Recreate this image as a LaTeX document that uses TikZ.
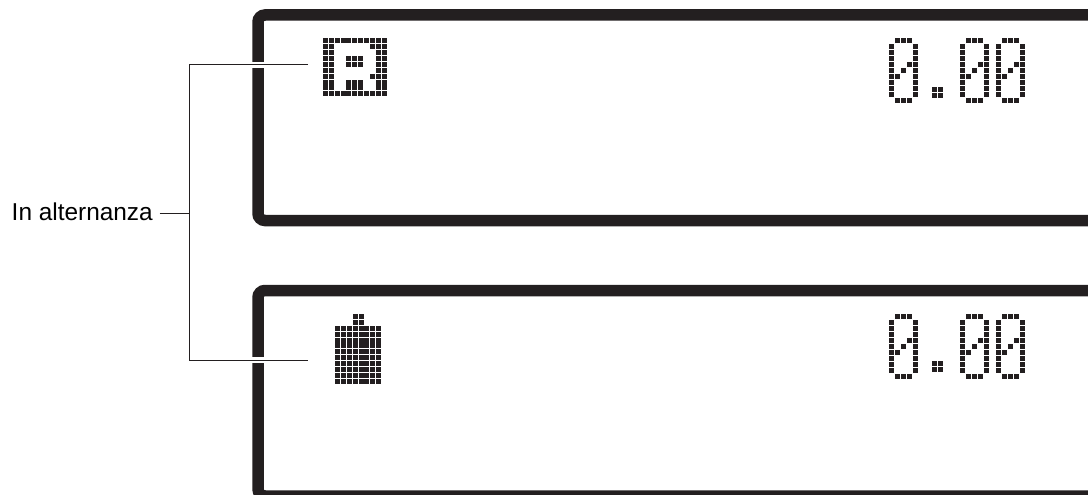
\documentclass[tikz,border=0pt]{standalone}
\usepackage{fontspec}
\setmainfont{Liberation Sans}
\definecolor{lcdblack}{HTML}{231F20}
\newcommand{\lcdcells}[4]{%
  \foreach \r/\cols in {#4}
    \foreach \c in \cols
      \fill[lcdcell] ({#1+\c*#3},{#2+\r*#3}) rectangle +(5,5);}
\newcommand{\lcdzero}[2]{\lcdcells{#1}{#2}{5.95}{0/{1,2,3},1/{0,4},2/{0,4},3/{0,4},4/{0,3,4},5/{0,2,4},6/{0,1,4},7/{0,4},8/{0,4},9/{0,4},10/{1,2,3}}}
\begin{document}
\begin{tikzpicture}[x=1pt, y=-1pt, font=\fontsize{24.4}{29}\selectfont,
  lcdcell/.style={fill=lcdblack},
  frame/.style={draw=lcdblack, line width=11.5pt, rounded corners=7pt},
  lead/.style={draw=lcdblack, line width=1pt},
  halo/.style={draw=white, line width=6pt}]
\clip (0,0) rectangle (1088,495);
% displays
\draw[frame] (1100,15) -- (258,15) -- (258,220.5) -- (1100,220.5);
\draw[frame] (1100,290.5) -- (258,290.5) -- (258,496) -- (1100,496);
% upper icon
\lcdcells{323}{38.5}{5.87}{0/{0,...,10},1/{0,1,8,9,10},2/{0,1,9,10},3/{0,1,4,5,6,9,10},4/{0,1,4,5,6,9,10},5/{0,1,9,10},6/{0,1,8,9,10},7/{0,1,4,5,6,9,10},8/{0,1,4,5,6,9,10},9/{0,...,10}}
% lower icon
\lcdcells{335.2}{314.2}{5.85}{0/{3,4},1/{3,4},2/{0,...,7},3/{0,...,7},4/{0,...,7},5/{0,...,7},6/{0,...,7},7/{0,...,7},8/{0,...,7},9/{0,...,7},10/{0,...,7},11/{0,...,7}}
% readings
\foreach \y/\d in {38.5/48.4,314.2/47} {
  \lcdzero{889.2}{\y}
  \lcdzero{960.2}{\y}
  \lcdzero{996.2}{\y}
  \lcdcells{931.7}{\y+\d}{5.95}{0/{0,1},1/{0,1}}
}
\node[anchor=base east, inner sep=0pt] (alt) at (153,220) {In alternanza};
\coordinate (brk) at (189.5,213);
\coordinate (brktop) at (189.5,65);
\coordinate (brkbot) at (189.5,360);
\coordinate (endtop) at (308,65);
\coordinate (endbot) at (308,360);
\draw[halo] (brktop) -- (endtop);
\draw[halo] (brkbot) -- (endbot);
\draw[lead] (endtop) -- (brktop) -- (brkbot) -- (endbot);
\draw[lead, shorten <=6.5pt] (alt.east |- brk) -- (brk);
\end{tikzpicture}
\end{document}
